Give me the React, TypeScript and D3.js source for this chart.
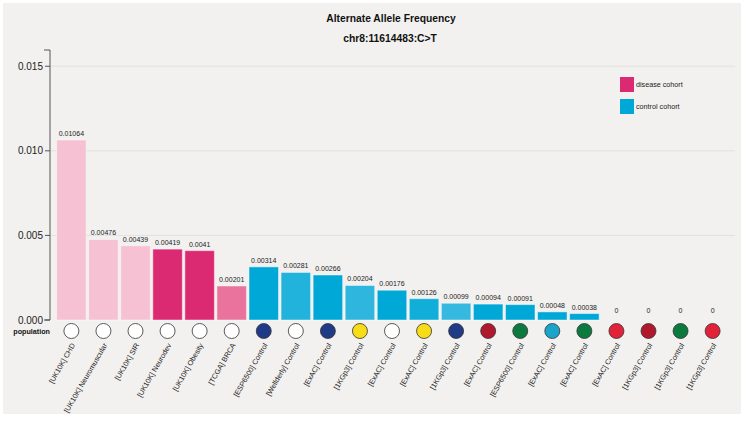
import React from 'react';
import * as d3 from 'd3';

const labels = [
  "[UK10K] CHD", "[UK10K] Neuromuscular", "[UK10K] SIR", "[UK10K] Neurodev", "[UK10K] Obesity",
  "[TCGA] BRCA", "[ESP6500] Control", "[Wellderly] Control", "[ExAC] Control", "[1KGp3] Control",
  "[ExAC] Control", "[ExAC] Control", "[1KGp3] Control", "[ExAC] Control", "[ESP6500] Control",
  "[ExAC] Control", "[ExAC] Control", "[ExAC] Control", "[1KGp3] Control", "[1KGp3] Control",
  "[1KGp3] Control",
];
const values = [
  0.01064, 0.00476, 0.00439, 0.00419, 0.0041, 0.00201, 0.00314, 0.00281, 0.00266, 0.00204,
  0.00176, 0.00126, 0.00099, 0.00094, 0.00091, 0.00048, 0.00038, 0, 0, 0, 0,
];
const barColors = [
  "#f5c1d3", "#f5c1d3", "#f5c1d3", "#dc2a72", "#dc2a72", "#e9739c", "#00a8d8", "#22b3dc",
  "#00a8d8", "#2fb6de", "#00a8d8", "#12aeda", "#36b9e0", "#00a8d8", "#00a8d8", "#00a8d8",
  "#00a8d8", "#00a8d8", "#00a8d8", "#00a8d8", "#00a8d8",
];
const popColors = [
  "#ffffff", "#ffffff", "#ffffff", "#ffffff", "#ffffff", "#ffffff", "#1f3b87", "#ffffff",
  "#1f3b87", "#f7dc17", "#ffffff", "#f7dc17", "#1f3b87", "#b0182e", "#0c7a3f", "#1aa4c9",
  "#0c7a3f", "#e02338", "#b0182e", "#0c7a3f", "#e02338",
];
const yTicks = [0, 0.005, 0.01, 0.015];
const legendItems = ["disease cohort", "control cohort"];
const legendColors = ["#dc2a72", "#00a8d8"];

const W = 746;
const H = 421;
const font = "'Liberation Sans', Arial, sans-serif";

export default function App() {
  const x = d3.scaleBand<number>()
    .domain(d3.range(values.length))
    .range([56, 728])
    .paddingInner(0.08)
    .paddingOuter(0.02);
  const yMax = (d3.max(values) as number) * 1.5;
  const y = d3.scaleLinear().domain([0, yMax]).range([320, 50]);
  const fmt = d3.format(".3f");

  return (
    <svg width={W} height={H} style={{ position: 'absolute', left: 0, top: 0, display: 'block' }} fontFamily={font}>
      <rect x={0} y={0} width={W} height={H} fill="#ffffff" />
      <rect x={3} y={3} width={738} height={411} fill="#f2f1ef" />

      <text x={391} y={22} textAnchor="middle" fontSize={10.3} fontWeight="bold" fill="#111">Alternate Allele Frequency</text>
      <text x={390} y={42} textAnchor="middle" fontSize={10.3} fontWeight="bold" fill="#111">chr8:11614483:C&gt;T</text>

      {/* grid */}
      {yTicks.filter(t => t > 0).map(t => (
        <line key={t} x1={50} x2={735} y1={y(t)} y2={y(t)} stroke="#e2e1df" strokeWidth={1} />
      ))}

      {/* y axis */}
      <path d={`M44,${y(yMax)}H50V${y(0)}H44`} fill="none" stroke="#555" strokeWidth={1} />
      {yTicks.map(t => (
        <g key={t} transform={`translate(0,${y(t)})`}>
          <line x1={45} x2={50} stroke="#555" />
          <text x={43} dy="0.35em" textAnchor="end" fontSize={10} fill="#222">{fmt(t)}</text>
        </g>
      ))}

      {/* bars */}
      {values.map((v, i) => {
        const bx = x(i) as number;
        const bw = x.bandwidth();
        return (
          <g key={i}>
            {v > 0 && (
              <rect x={bx} y={y(v)} width={bw} height={y(0) - y(v)} fill={barColors[i]}
                stroke="#ffffff" strokeOpacity={0.45} strokeWidth={1} />
            )}
            <text x={bx + bw / 2} y={y(v) - (v > 0 ? 4 : 7)} textAnchor="middle" fontSize={7} fill="#222">{String(v)}</text>
            <circle cx={bx + bw / 2} cy={331} r={7.5} fill={popColors[i]} stroke="#333" strokeWidth={0.8} />
            <text transform={`translate(${bx + bw / 2 + 4},${345}) rotate(-60)`} textAnchor="end" fontSize={7.3} fill="#222">{labels[i]}</text>
          </g>
        );
      })}

      <text x={50} y={334} textAnchor="end" fontSize={7.2} fontWeight="bold" fill="#111">population</text>

      {/* legend */}
      {legendItems.map((l, i) => (
        <g key={l} transform={`translate(620,${77 + i * 22})`}>
          <rect width={14} height={15} fill={legendColors[i]} />
          <text x={16} y={10} fontSize={7.2} fill="#222">{l}</text>
        </g>
      ))}
    </svg>
  );
}
